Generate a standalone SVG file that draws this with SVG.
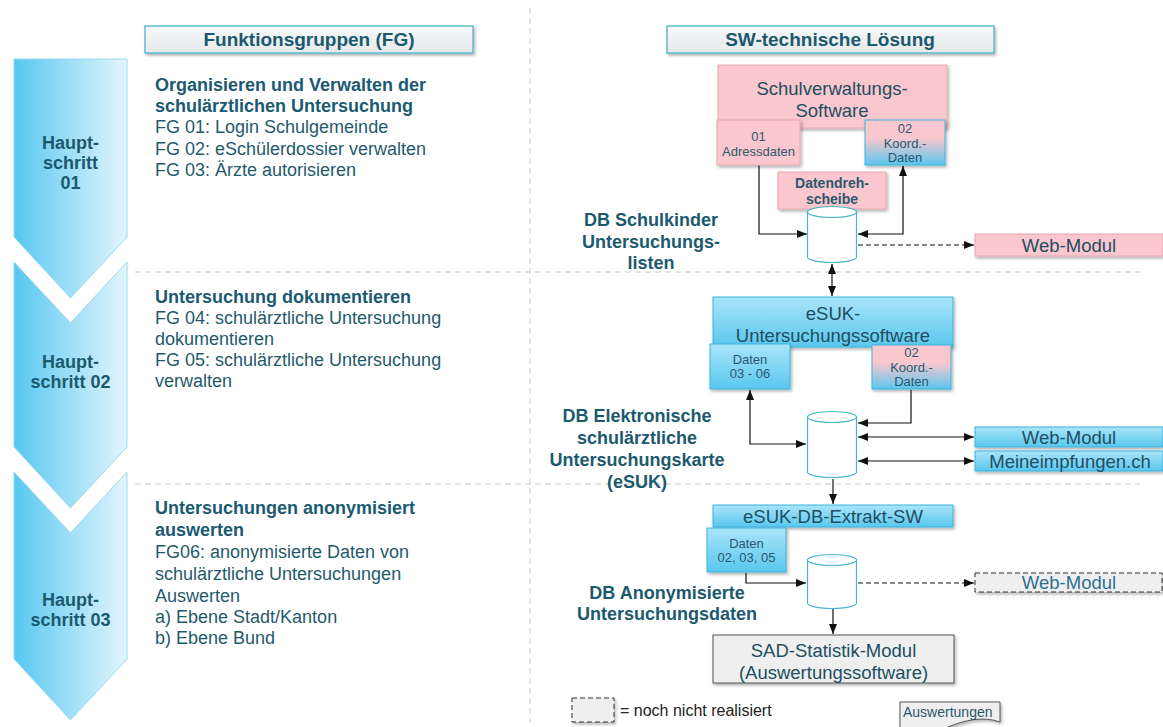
<svg xmlns="http://www.w3.org/2000/svg" width="1163" height="727" viewBox="0 0 1163 727">
<defs>
  <linearGradient id="gChev" x1="0" y1="0" x2="1" y2="0">
    <stop offset="0" stop-color="#56c7f1"/>
    <stop offset="0.55" stop-color="#a6e1f7"/>
    <stop offset="1" stop-color="#e2f6fd"/>
  </linearGradient>
  <linearGradient id="gBlue" x1="0" y1="0" x2="0" y2="1">
    <stop offset="0" stop-color="#a9e5f9"/>
    <stop offset="1" stop-color="#5ac7ee"/>
  </linearGradient>
  <linearGradient id="gMix" x1="0" y1="0" x2="0" y2="1">
    <stop offset="0" stop-color="#f9c7cd"/>
    <stop offset="0.4" stop-color="#f9c7cd"/>
    <stop offset="1" stop-color="#5ac7ee"/>
  </linearGradient>
  <linearGradient id="gHead" x1="0" y1="0" x2="0" y2="1">
    <stop offset="0" stop-color="#f6f7f8"/>
    <stop offset="1" stop-color="#e6e9eb"/>
  </linearGradient>
  <filter id="sh" x="-10%" y="-20%" width="130%" height="160%">
    <feDropShadow dx="1.5" dy="2" stdDeviation="1.5" flood-color="#000" flood-opacity="0.3"/>
  </filter>
  <marker id="ah" viewBox="0 0 10 8" refX="10" refY="4" markerWidth="10" markerHeight="8" markerUnits="userSpaceOnUse" orient="auto-start-reverse">
    <path d="M0,0 L10,4 L0,8 z" fill="#111"/>
  </marker>
  <style>
    text { font-family: "Liberation Sans", Arial, sans-serif; }
    .sep { stroke: #c9c9c9; stroke-width: 1; stroke-dasharray: 6 4; fill: none; }
    .chev { fill: url(#gChev); stroke: #9ad9f1; stroke-width: 1; }
    .head { fill: url(#gHead); stroke: #4ab6c9; stroke-width: 1.3; filter: url(#sh); }
    .pink { fill: #f9c7cd; stroke: #e7a8b1; stroke-width: 1; filter: url(#sh); }
    .blue { fill: url(#gBlue); stroke: #3db3dc; stroke-width: 1; filter: url(#sh); }
    .mix { fill: url(#gMix); stroke: #3db3dc; stroke-width: 1; filter: url(#sh); }
    .gray { fill: #efefef; stroke: #555; stroke-width: 1; filter: url(#sh); }
    .todo { fill: #efefef; stroke: #333; stroke-width: 1; stroke-dasharray: 5 3; filter: url(#sh); }
    .db { fill: #fff; stroke: #4ab6c9; stroke-width: 1.2; }
    .hd { font-size: 19px; font-weight: bold; fill: #1b5a6e; text-anchor: middle; }
    .lb { font-size: 18px; font-weight: bold; fill: #1b5a72; }
    .lr { font-size: 18px; fill: #1f5a6c; }
    .ch { font-size: 18px; font-weight: bold; fill: #1b5a6e; text-anchor: middle; }
    .dbl { font-size: 18px; font-weight: bold; fill: #1b5a6e; text-anchor: middle; }
    .big { font-size: 18.5px; fill: #214e62; text-anchor: middle; }
    .sm { font-size: 13px; fill: #2b5770; text-anchor: middle; }
    .smb { font-size: 14px; font-weight: bold; fill: #2b5770; text-anchor: middle; }
    .leg { font-size: 16px; fill: #222; }
    .ln { fill: none; stroke: #111; stroke-width: 1.2; }
    .dl { fill: none; stroke: #111; stroke-width: 1.2; stroke-dasharray: 5 3; }
  </style>
</defs>

<rect width="1163" height="727" fill="#fff"/>

<!-- column and row separators -->
<g id="separators">
  <path class="sep" d="M530,8 V722"/>
  <path class="sep" d="M135,272 H1140"/>
  <path class="sep" d="M135,484 H1140"/>
</g>

<!-- column headers -->
<g id="header-fg">
  <rect class="head" x="145" y="26" width="328" height="27"/>
  <text class="hd" x="309" y="46">Funktionsgruppen (FG)</text>
</g>
<g id="header-sw">
  <rect class="head" x="667" y="26" width="327" height="27"/>
  <text class="hd" x="830" y="46">SW-technische Lösung</text>
</g>

<!-- process steps -->
<g id="step-01">
  <path class="chev" d="M14,59 H127 V237 L70.5,298 L14,237 Z"/>
  <text class="ch" x="70.5" y="149">Haupt-</text>
  <text class="ch" x="70.5" y="169">schritt</text>
  <text class="ch" x="70.5" y="189">01</text>
</g>
<g id="step-02">
  <path class="chev" d="M14,262 L70.5,323 L127,262 V447 L70.5,508 L14,447 Z"/>
  <text class="ch" x="70.5" y="368">Haupt-</text>
  <text class="ch" x="70.5" y="388">schritt 02</text>
</g>
<g id="step-03">
  <path class="chev" d="M14,472 L70.5,533 L127,472 V659 L70.5,720 L14,659 Z"/>
  <text class="ch" x="70.5" y="606">Haupt-</text>
  <text class="ch" x="70.5" y="626">schritt 03</text>
</g>

<!-- function groups -->
<g id="fg-01">
  <text class="lb" x="155" y="91">Organisieren und Verwalten der</text>
  <text class="lb" x="155" y="112">schulärztlichen Untersuchung</text>
  <text class="lr" x="155" y="133">FG 01: Login Schulgemeinde</text>
  <text class="lr" x="155" y="155">FG 02: eSchülerdossier verwalten</text>
  <text class="lr" x="155" y="176">FG 03: Ärzte autorisieren</text>
</g>
<g id="fg-02">
  <text class="lb" x="155" y="303">Untersuchung dokumentieren</text>
  <text class="lr" x="155" y="324">FG 04: schulärztliche Untersuchung</text>
  <text class="lr" x="155" y="345">dokumentieren</text>
  <text class="lr" x="155" y="366">FG 05: schulärztliche Untersuchung</text>
  <text class="lr" x="155" y="387">verwalten</text>
</g>
<g id="fg-03">
  <text class="lb" x="155" y="514">Untersuchungen anonymisiert</text>
  <text class="lb" x="155" y="536">auswerten</text>
  <text class="lr" x="155" y="558">FG06: anonymisierte Daten von</text>
  <text class="lr" x="155" y="580">schulärztliche Untersuchungen</text>
  <text class="lr" x="155" y="602">Auswerten</text>
  <text class="lr" x="155" y="623">a) Ebene Stadt/Kanton</text>
  <text class="lr" x="155" y="644">b) Ebene Bund</text>
</g>

<!-- connectors -->
<g id="connectors">
  <path class="ln" d="M759,165 V234 H807" marker-end="url(#ah)"/>
  <path class="ln" d="M903,166 V234 H858" marker-start="url(#ah)" marker-end="url(#ah)"/>
  <path class="dl" d="M858,245 H974" marker-end="url(#ah)"/>
  <path class="ln" d="M832,264 V296" marker-start="url(#ah)" marker-end="url(#ah)"/>

  <path class="ln" d="M911,390 V423 H858" marker-end="url(#ah)"/>
  <path class="ln" d="M750,390 V444 H806" marker-start="url(#ah)" marker-end="url(#ah)"/>
  <path class="ln" d="M858,437 H974" marker-start="url(#ah)" marker-end="url(#ah)"/>
  <path class="ln" d="M858,461 H974" marker-start="url(#ah)" marker-end="url(#ah)"/>
  <path class="ln" d="M833,479 V504" marker-end="url(#ah)"/>

  <path class="ln" d="M746,573 V583 H806" marker-end="url(#ah)"/>
  <path class="dl" d="M858,583 H974" marker-end="url(#ah)"/>
  <path class="ln" d="M833,609 V634" marker-end="url(#ah)"/>
</g>

<!-- step 01: school administration -->
<g id="schulverwaltung">
  <rect class="pink" x="718" y="65" width="229" height="63"/>
  <text class="big" x="832" y="95">Schulverwaltungs-</text>
  <text class="big" x="832" y="117">Software</text>
</g>
<g id="adressdaten">
  <rect class="pink" x="717" y="120" width="83" height="45"/>
  <text class="sm" x="758.5" y="141">01</text>
  <text class="sm" x="758.5" y="156">Adressdaten</text>
</g>
<g id="koord-01">
  <rect class="mix" x="865" y="120" width="80" height="45"/>
  <text class="sm" x="905" y="133">02</text>
  <text class="sm" x="905" y="148">Koord.-</text>
  <text class="sm" x="905" y="162">Daten</text>
</g>
<g id="datendrehscheibe">
  <rect class="pink" x="778" y="172" width="108" height="37"/>
  <text class="smb" x="832" y="188">Datendreh-</text>
  <text class="smb" x="832" y="204">scheibe</text>
</g>
<g id="db-schulkinder">
  <path class="db" d="M807.5,212 V257 A24.5,5.5 0 0 0 856.5,257 V212 Z"/>
  <ellipse class="db" cx="832" cy="212" rx="24.5" ry="5.5"/>
  <text class="dbl" x="651" y="226">DB Schulkinder</text>
  <text class="dbl" x="651" y="248">Untersuchungs-</text>
  <text class="dbl" x="651" y="269">listen</text>
</g>
<g id="webmodul-01">
  <rect class="pink" x="975" y="234" width="188" height="22"/>
  <text class="big" x="1069" y="252">Web-Modul</text>
</g>

<!-- step 02: examination software -->
<g id="esuk-software">
  <rect class="blue" x="713" y="297" width="240" height="50"/>
  <text class="big" x="833" y="320">eSUK-</text>
  <text class="big" x="833" y="342">Untersuchungssoftware</text>
</g>
<g id="daten-03-06">
  <rect class="blue" x="710" y="344" width="80" height="45"/>
  <text class="sm" x="750" y="364">Daten</text>
  <text class="sm" x="750" y="378">03 - 06</text>
</g>
<g id="koord-02">
  <rect class="mix" x="872" y="345" width="79" height="44"/>
  <text class="sm" x="911.5" y="357">02</text>
  <text class="sm" x="911.5" y="372">Koord.-</text>
  <text class="sm" x="911.5" y="386">Daten</text>
</g>
<g id="db-esuk">
  <path class="db" d="M807.5,417 V472 A24.5,5.5 0 0 0 856.5,472 V417 Z"/>
  <ellipse class="db" cx="832" cy="417" rx="24.5" ry="5.5"/>
  <text class="dbl" x="637" y="422">DB Elektronische</text>
  <text class="dbl" x="637" y="444">schulärztliche</text>
  <text class="dbl" x="637" y="466">Untersuchungskarte</text>
  <text class="dbl" x="637" y="488">(eSUK)</text>
</g>
<g id="webmodul-02">
  <rect class="blue" x="975" y="427" width="188" height="20"/>
  <text class="big" x="1069" y="444">Web-Modul</text>
</g>
<g id="meineimpfungen">
  <rect class="blue" x="975" y="451" width="188" height="20"/>
  <text class="big" x="1070" y="468">Meineimpfungen.ch</text>
</g>

<!-- step 03: anonymised evaluation -->
<g id="extrakt">
  <rect class="blue" x="713" y="505" width="240" height="22"/>
  <text class="big" x="833" y="523">eSUK-DB-Extrakt-SW</text>
</g>
<g id="daten-02-03-05">
  <rect class="blue" x="707" y="528" width="79" height="44"/>
  <text class="sm" x="746.5" y="548">Daten</text>
  <text class="sm" x="746.5" y="562">02, 03, 05</text>
</g>
<g id="db-anonym">
  <path class="db" d="M807.5,560 V603 A24.5,5.5 0 0 0 856.5,603 V560 Z"/>
  <ellipse class="db" cx="832" cy="560" rx="24.5" ry="5.5"/>
  <text class="dbl" x="667" y="599">DB Anonymisierte</text>
  <text class="dbl" x="667" y="620">Untersuchungsdaten</text>
</g>
<g id="webmodul-03">
  <rect class="todo" x="975" y="573" width="187" height="19"/>
  <text class="big" x="1069" y="589" style="fill:#2f7090">Web-Modul</text>
</g>
<g id="sad-statistik">
  <rect class="gray" x="713" y="635" width="241" height="48"/>
  <text class="big" x="833.5" y="657">SAD-Statistik-Modul</text>
  <text class="big" x="833.5" y="679">(Auswertungssoftware)</text>
</g>
<g id="auswertungen">
  <path class="gray" d="M900,702 H1000 V722 C983,716 965,720 948,727 S914,737 900,734 Z"/>
  <text x="903" y="717" style="font-size:14px;fill:#2b5770">Auswertungen</text>
</g>

<!-- legend -->
<g id="legend">
  <rect class="todo" x="572" y="698" width="42" height="24"/>
  <text class="leg" x="620" y="716">= noch nicht realisiert</text>
</g>
</svg>
